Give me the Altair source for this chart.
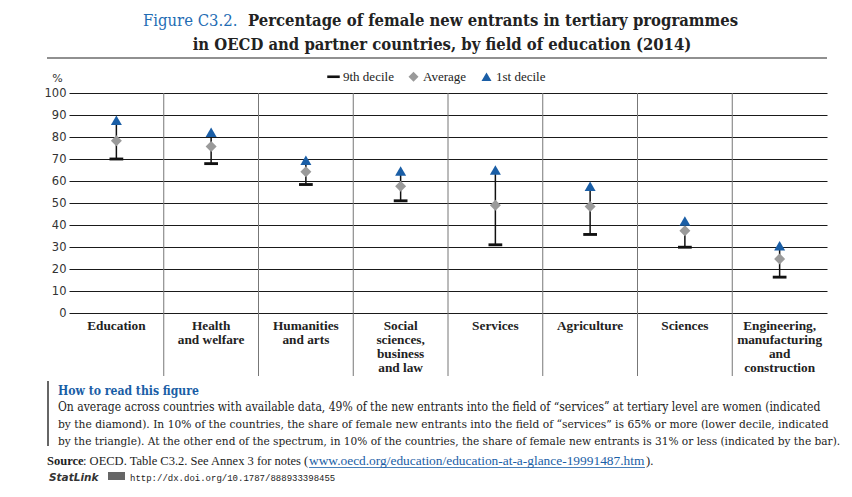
import altair as alt
import pandas as pd

categories = ["Education", "Health and welfare", "Humanities and arts",
              "Social sciences, business and law", "Services", "Agriculture",
              "Sciences", "Engineering, manufacturing and construction"]
labels = ["Education", "Health\nand welfare", "Humanities\nand arts",
          "Social\nsciences,\nbusiness\nand law", "Services", "Agriculture",
          "Sciences", "Engineering,\nmanufacturing\nand\nconstruction"]
ninth_decile = [70.0, 67.9, 58.4, 51.0, 31.0, 35.7, 29.9, 16.3]
average = [78.3, 75.7, 64.2, 57.6, 49.0, 48.4, 37.4, 24.6]
first_decile = [87.6, 82.2, 69.4, 64.5, 65.0, 57.6, 41.8, 30.6]
y_ticks = [0, 10, 20, 30, 40, 50, 60, 70, 80, 90, 100]

SERIES = ["9th decile", "Average", "1st decile"]
SERIF = "Liberation Serif"
COND = "DejaVu Serif Condensed"
SANS = "DejaVu Sans"
BLUE_T = "#1f6db4"
BLUE_M = "#1a5ea6"

df = pd.DataFrame({
    "category": categories,
    "label": labels,
    "pos": [i + 0.5 for i in range(len(categories))],
    "9th decile": ninth_decile,
    "Average": average,
    "1st decile": first_decile,
})
seps = pd.DataFrame({"sep": list(range(1, len(categories)))})

W, H = 758, 220
xscale = alt.Scale(domain=[0, len(categories)], nice=False, zero=False)
yscale = alt.Scale(domain=[0, 100], nice=False)
yaxis = alt.Axis(values=y_ticks, grid=True, gridColor="#1a1a1a", gridWidth=1.1,
                 domain=False, ticks=False, labelPadding=3, labelFont=SANS,
                 labelFontSize=11.5, labelColor="#333", title="%", titleAngle=0,
                 titleX=-12, titleY=-15, titleAlign="center", titleBaseline="middle",
                 titleFont=SANS, titleFontSize=11, titleFontWeight="normal",
                 titleColor="#333")

BAR_PATH = "M-1.25,-0.26H1.25V0.26H-1.25Z"

sep_layer = alt.Chart(seps).mark_rule(color="#777", strokeWidth=1).encode(
    x=alt.X("sep:Q", scale=xscale, axis=None),
    y=alt.value(0), y2=alt.value(283))

whisker = alt.Chart(df).mark_rule(color="#111", strokeWidth=1.5).encode(
    x=alt.X("pos:Q", scale=xscale, axis=None),
    y=alt.Y("9th decile:Q", scale=yscale, axis=yaxis),
    y2="1st decile:Q")

leg = alt.Legend(title=None, orient="none", direction="horizontal",
                 legendX=258, legendY=-23, labelFont=SERIF, labelFontSize=13,
                 labelColor="#222", symbolSize=100, columnPadding=13,
                 labelOffset=3, symbolStrokeWidth=0)

points = alt.Chart(df).transform_fold(SERIES, as_=["series", "value"]).mark_point(
    filled=True, size=121, opacity=1).encode(
    x=alt.X("pos:Q", scale=xscale, axis=None),
    y=alt.Y("value:Q", scale=yscale, axis=yaxis),
    shape=alt.Shape("series:N", scale=alt.Scale(domain=SERIES,
                    range=[BAR_PATH, "diamond", "triangle-up"]), legend=leg, sort=SERIES),
    color=alt.Color("series:N", scale=alt.Scale(domain=SERIES,
                    range=["#111111", "#9a9a9a", BLUE_M]), legend=leg, sort=SERIES),
)

cat_text = alt.Chart(df).mark_text(font=SERIF, fontSize=13.3, fontWeight="bold",
                                   baseline="top", align="center", lineBreak="\n",
                                   lineHeight=14, color="#222").encode(
    x=alt.X("pos:Q", scale=xscale, axis=None), y=alt.value(226), text="label:N")


def txt(s, x, y, size=12.5, weight="normal", color="#222", font=SERIF,
        align="left", style="normal"):
    return alt.Chart(alt.Data(values=[{"t": s}])).mark_text(
        align=align, baseline="alphabetic", fontSize=size, fontWeight=weight,
        color=color, font=font, fontStyle=style).encode(
        x=alt.value(x), y=alt.value(y), text="t:N")


def hrule(x1, x2, y, color="#222", width=1.2):
    return alt.Chart(alt.Data(values=[{}])).mark_rule(color=color, strokeWidth=width).encode(
        x=alt.value(x1), x2=alt.value(x2), y=alt.value(y))


def vrule(x, y1, y2, color="#222", width=1.2):
    return alt.Chart(alt.Data(values=[{}])).mark_rule(color=color, strokeWidth=width).encode(
        x=alt.value(x), y=alt.value(y1), y2=alt.value(y2))


icon = alt.Chart(alt.Data(values=[{}])).mark_rect(color="#666").encode(
    x=alt.value(39), x2=alt.value(56), y=alt.value(379), y2=alt.value(387))

annotations = [
    txt("Figure C3.2.", 74, -67, size=16.5, color=BLUE_T, font=COND),
    txt("Percentage of female new entrants in tertiary programmes", 179, -67,
        size=16.5, weight="bold", font=COND),
    txt("in OECD and partner countries, by field of education (2014)", 373, -43,
        size=16.5, weight="bold", align="center", font=COND),
    hrule(-22, 758, -35),
    vrule(-21, 288, 353, color="#333", width=1.5),
    txt("How to read this figure", -11, 302, size=12.1, weight="bold", color=BLUE_M, font=COND),
    txt("On average across countries with available data, 49% of the new entrants into the field of \u201cservices\u201d at tertiary level are women (indicated",
        -11, 318, size=12.0, font=COND),
    txt("by the diamond). In 10% of the countries, the share of female new entrants into the field of \u201cservices\u201d is 65% or more (lower decile, indicated",
        -11, 335, size=11.9, font=COND),
    txt("by the triangle). At the other end of the spectrum, in 10% of the countries, the share of female new entrants is 31% or less (indicated by the bar).",
        -11, 352, size=11.75, font=COND),
    txt("Source", -22, 372, size=12.5, weight="bold"),
    txt(": OECD. Table C3.2. See Annex 3 for notes (", 14, 372, size=12.5),
    txt("www.oecd.org/education/education-at-a-glance-19991487.htm", 240, 372,
        size=13.4, color=BLUE_M),
    hrule(240, 576, 374.5, color=BLUE_M, width=0.8),
    txt(").", 577, 372, size=12.5),
    txt("StatLink", -20, 388, size=10.5, weight="bold", style="italic",
        font="DejaVu Sans", color="#333"),
    icon,
    txt("http://dx.doi.org/10.1787/888933398455", 61, 388, size=9,
        font="Liberation Mono", color="#222"),
]

chart = alt.layer(sep_layer, whisker, points, cat_text, *annotations).properties(
    width=W, height=H,
    autosize=alt.AutoSizeParams(type="none"),
    padding={"left": 61, "top": 85, "right": 17, "bottom": 175},
).configure_view(stroke=None).configure_legend(symbolType="circle")

chart.save("out.html", embed_options={"renderer": "svg", "actions": False})
